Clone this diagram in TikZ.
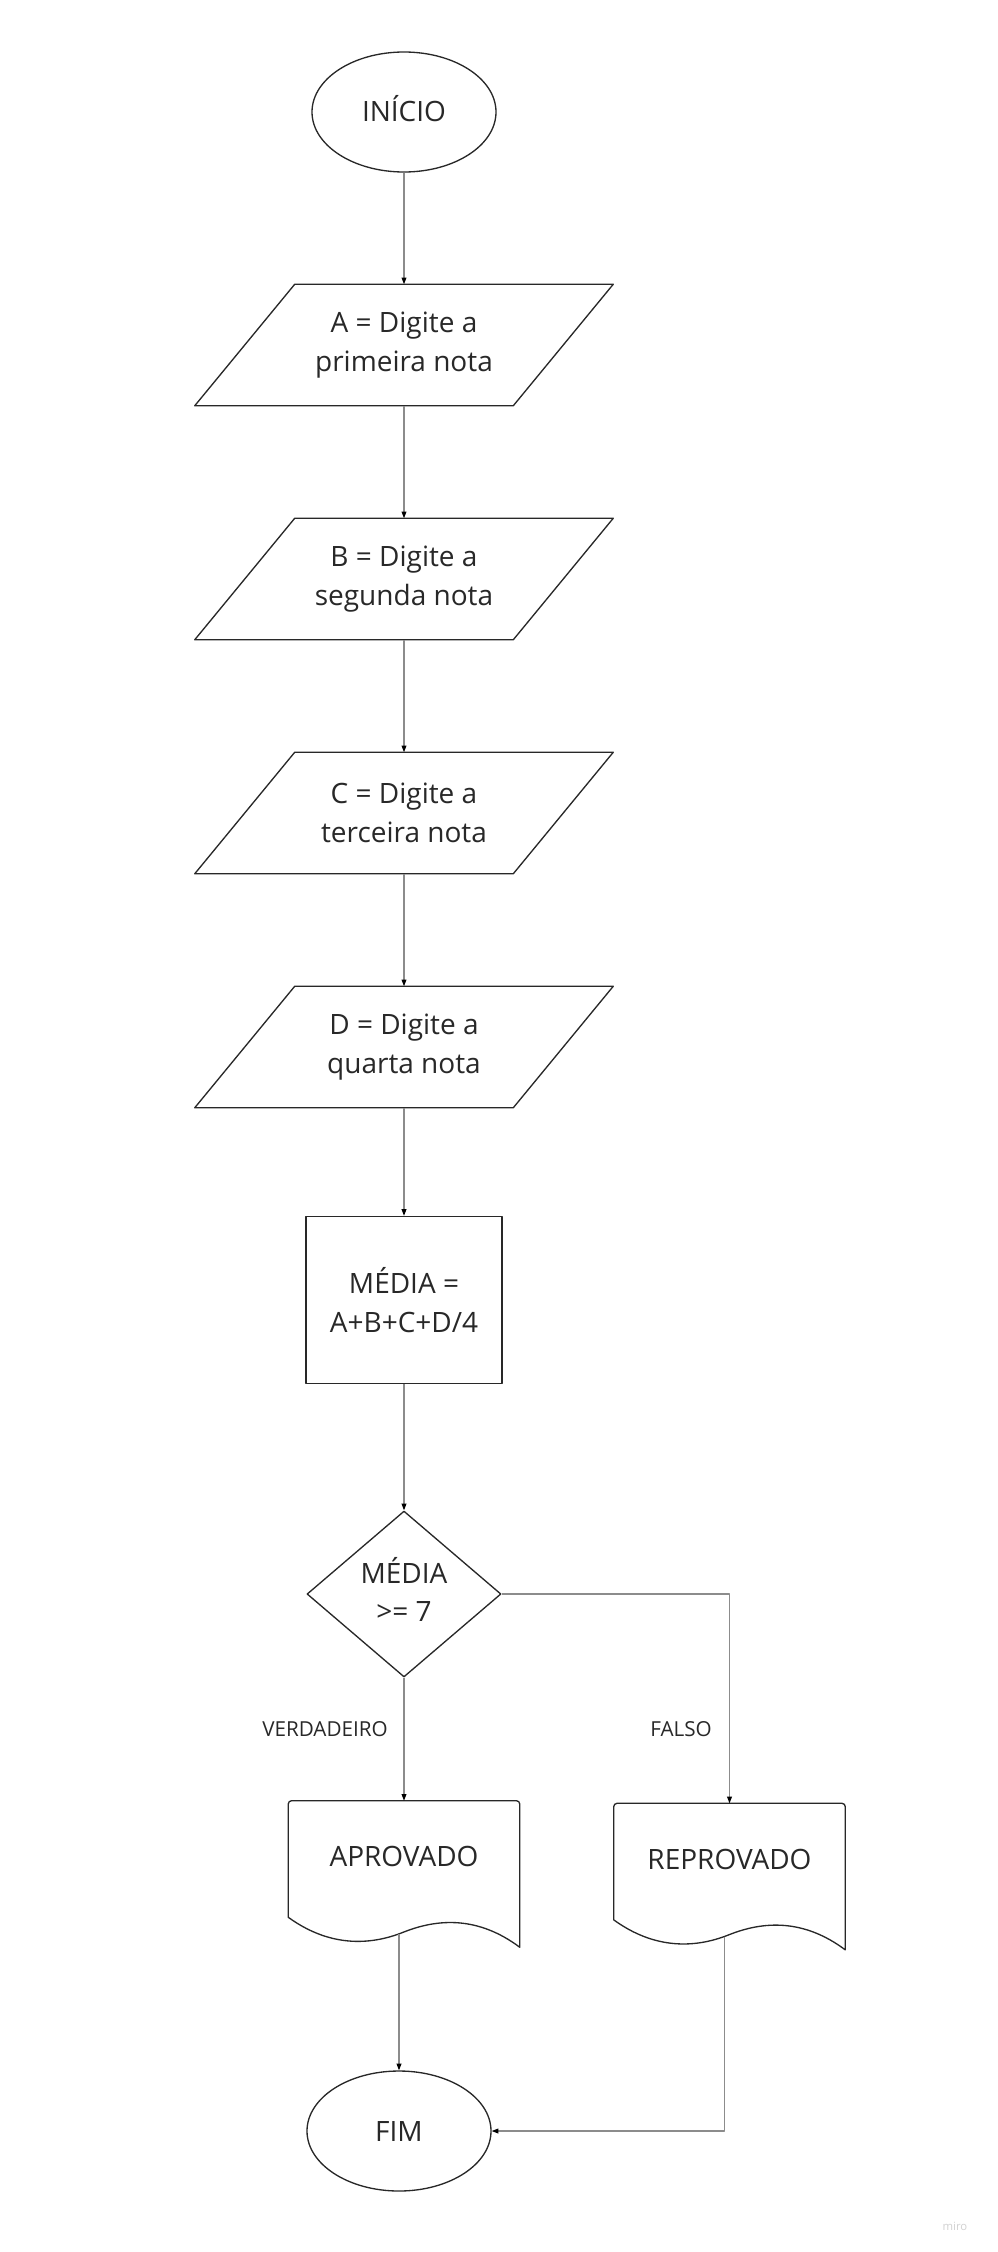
\documentclass[tikz,border=0pt]{standalone}
\usepackage{fontspec}
\setmainfont{Open Sans}
\usetikzlibrary{shapes.geometric,arrows.meta}
\definecolor{linegray}{RGB}{140,140,140}
\definecolor{ink}{RGB}{40,40,40}
\begin{document}
\begin{tikzpicture}[x=0.75pt, y=0.75pt, line join=round,
	txt/.style={font=\fontsize{21}{29}\selectfont, text=ink, align=center, inner sep=0pt},
	terminal/.style={txt, ellipse, draw=ink, line width=1pt, minimum width=138pt, minimum height=90pt},
	inbox/.style={txt, rectangle, minimum width=313.5pt, minimum height=90.75pt},
	procbox/.style={txt, rectangle, draw=ink, line width=1pt, minimum width=147pt, minimum height=125.25pt},
	decbox/.style={txt, diamond, draw=ink, line width=1pt, minimum width=145.5pt, minimum height=124.5pt},
	docbox/.style={txt, rectangle, anchor=north, text depth=4pt, minimum width=173.25pt, minimum height=87pt},
	outline/.style={draw=ink, line width=1pt},
	arr/.style={draw=linegray, line width=0.8pt, -{Triangle[length=5pt,width=3.6pt,color=black]}},
	lbl/.style={font=\fontsize{15.5}{18}\selectfont, text=ink, inner sep=0pt}]
	\useasboundingbox (0,0) rectangle (998,-2252);
	\node[terminal, text depth=6pt] (ini) at (404,-112) {INÍCIO};
	\node[inbox] (nA) at (404,-345) {A = Digite a\\primeira nota};
	\node[inbox] (nB) at (404,-579) {B = Digite a\\segunda nota};
	\node[inbox] (nC) at (404,-813) {C = Digite a\\terceira nota};
	\node[inbox] (nD) at (404,-1047) {D = Digite a\\quarta nota};
	\node[procbox] (media) at (404,-1300) {MÉDIA =\\A+B+C+D/4};
	\node[decbox, text depth=7pt] (teste) at (404,-1594) {MÉDIA\\>= 7};
	\node[docbox] (apr) at (404,-1800.7) {APROVADO};
	\node[docbox] (rep) at (729.5,-1803.3) {REPROVADO};
	\node[terminal] (fim) at (399,-2131) {FIM};
	% parallelograms
	\foreach \n in {nA,nB,nC,nD}
	\draw[outline] ([xshift=75pt]\n.north west) -- (\n.north east) -- ([xshift=-75pt]\n.south east) -- (\n.south west) -- cycle;
	% documents
	\foreach \n in {apr,rep}
	\draw[outline] (\n.south west) [rounded corners=2.5pt] -- (\n.north west) -- (\n.north east) -- ([yshift=-5pt]\n.north east) [sharp corners] -- ([yshift=-22.5pt]\n.south east)
	.. controls ([shift={(190,1)}]\n.south west) and ([shift={(150,-1)}]\n.south west) .. ([shift={(115,-15)}]\n.south west)
	.. controls ([shift={(80,-29)}]\n.south west) and ([shift={(40,-29)}]\n.south west) .. (\n.south west) -- cycle;
	\path
	([shift={(-5,-16.7)}]apr.south) coordinate (aprout)
	([shift={(-5.2,-16.8)}]rep.south) coordinate (repout);
	\foreach \a/\b in {ini/nA,nA/nB,nB/nC,nC/nD,nD/media,media/teste,teste/apr} \draw[arr] (\a) -- (\b);
	\draw[arr] (teste.east) -| (rep.north);
	\draw[arr] (aprout) -- (fim.north);
	\draw[arr] (repout) |- (fim.east);
	\node[lbl] (verd) at (325,-1729) {VERDADEIRO};
	\node[lbl] (fals) at (681,-1729) {FALSO};
	\node[font=\fontsize{8.5}{10}\selectfont, text=black!18] (marca) at (955,-2226) {miro};
\end{tikzpicture}
\end{document}
